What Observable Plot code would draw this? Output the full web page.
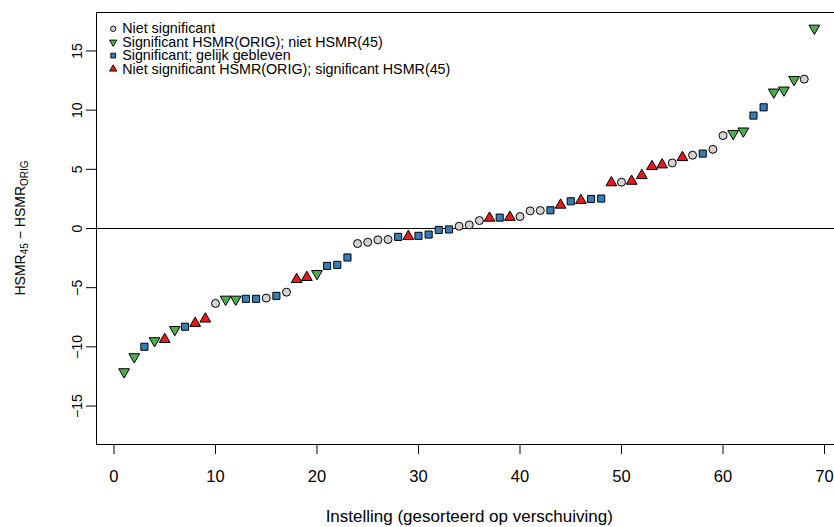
<!DOCTYPE html>
<html>
<head>
<meta charset="utf-8">
<script src="https://cdn.jsdelivr.net/npm/d3@7"></script>
<script src="https://cdn.jsdelivr.net/npm/@observablehq/plot@0.6"></script>
<style>
  html, body { margin: 0; padding: 0; background: #fff; overflow: hidden; }
  #chart { width: 834px; height: 527px; overflow: hidden; }
  #chart svg { max-width: none !important; }
</style>
</head>
<body>
<div id="chart"></div>
<script>
// Verschuiving HSMR(45) - HSMR(ORIG) per instelling, oplopend gesorteerd
const shift = [
  -12.11, -10.84, -9.99, -9.49, -9.37, -8.54, -8.30, -8.01, -7.64, -6.33,
  -5.98, -5.98, -5.94, -5.94, -5.88, -5.69, -5.38, -4.30, -4.13, -3.81,
  -3.16, -3.07, -2.45, -1.27, -1.16, -0.96, -0.93, -0.71, -0.67, -0.62,
  -0.51, -0.12, -0.08, 0.19, 0.30, 0.67, 0.88, 0.92, 0.95, 1.01,
  1.49, 1.52, 1.54, 1.98, 2.30, 2.37, 2.50, 2.53, 3.87, 3.91,
  4.00, 4.48, 5.24, 5.38, 5.54, 6.00, 6.19, 6.33, 6.69, 7.85,
  8.02, 8.23, 9.54, 10.24, 11.52, 11.69, 12.58, 12.62, 16.92
];

// Groep per instelling (index in groupLabels)
const group = [
  1, 1, 2, 1, 3, 1, 2, 3, 3, 0,
  1, 1, 2, 2, 0, 2, 0, 3, 3, 1,
  2, 2, 2, 0, 0, 0, 0, 2, 3, 2,
  2, 2, 2, 0, 0, 0, 3, 2, 3, 0,
  0, 0, 2, 3, 2, 3, 2, 2, 3, 0,
  3, 3, 3, 3, 0, 3, 0, 2, 0, 0,
  1, 1, 2, 2, 1, 1, 1, 0, 1
];

const groupLabels = [
  "Niet significant",
  "Significant HSMR(ORIG); niet HSMR(45)",
  "Significant; gelijk gebleven",
  "Niet significant HSMR(ORIG); significant HSMR(45)"
];

const xTicks = [0, 10, 20, 30, 40, 50, 60, 70];
const yTicks = [-15, -10, -5, 0, 5, 10, 15];

const xTitle = "Instelling (gesorteerd op verschuiving)";

// Weergave per groep
const groupFill = ["#d3d3d3", "#4daf4a", "#377eb8", "#e41a1c"];
const groupSymbol = ["circle", "triangle", "square", "triangle"];
const groupRotate = [0, 180, 0, 0];

const rows = shift.map((v, i) => ({
  pos: i + 1,
  shift: v,
  label: groupLabels[group[i]],
  rotate: groupRotate[group[i]]
}));

const font = "'Liberation Sans', Arial, Helvetica, sans-serif";

const legendMarks = groupLabels.flatMap((lab, i) => [
  Plot.dot([lab], {
    frameAnchor: "top-left", dx: 16.7, dy: 16.3 + i * 13.4,
    symbol: groupSymbol[i], fill: groupFill[i], rotate: groupRotate[i],
    stroke: "#000", strokeWidth: 0.9, r: 2.7
  }),
  Plot.text([lab], {
    frameAnchor: "top-left", dx: 25.7, dy: 16.3 + i * 13.4,
    text: d => d, textAnchor: "start", lineAnchor: "middle",
    fontSize: 14.3, fill: "#000"
  })
]);

const chart = Plot.plot({
  width: 842,
  height: 527,
  marginLeft: 96,
  marginRight: 0.5,
  marginTop: 12,
  marginBottom: 83,
  style: { fontFamily: font, fontSize: "14px", background: "#fff", color: "#000" },
  x: { domain: [-1.72, 71.72] },
  y: { domain: [-18.25, 18.25] },
  symbol: { domain: groupLabels, range: groupSymbol },
  color: { domain: groupLabels, range: groupFill },
  marks: [
    Plot.frame({ stroke: "#000", strokeWidth: 1 }),
    Plot.ruleY([0], { stroke: "#000", strokeWidth: 1.2 }),
    Plot.axisX({ ticks: xTicks, tickSize: 10, tickPadding: 16, label: null, fontSize: 16.5 }),
    Plot.axisY({ ticks: yTicks, tickSize: 10, tickRotate: -90, tickPadding: 5, label: null, fontSize: 14 }),
    Plot.text([xTitle], {
      frameAnchor: "bottom", dy: 72.5, text: d => d, lineAnchor: "middle",
      fontSize: 17, fill: "#000"
    }),
    Plot.dot(rows, {
      x: "pos", y: "shift", symbol: "label", fill: "label", rotate: "rotate",
      r: 4, stroke: "#000", strokeWidth: 1
    }),
    ...legendMarks
  ]
});
chart.style.maxWidth = "none";

// As-titel met subscripts: HSMR45 − HSMRORIG
const svg = d3.select(chart);
const yScale = chart.scale("y");
const yMid = (yScale.range[0] + yScale.range[1]) / 2;
const title = svg.append("text")
  .attr("transform", `translate(25,${yMid}) rotate(-90)`)
  .attr("text-anchor", "middle")
  .attr("font-family", font)
  .attr("font-size", 14)
  .attr("fill", "#000");
title.append("tspan").text("HSMR");
title.append("tspan").attr("font-size", 10).attr("dy", 3).text("45");
title.append("tspan").attr("dy", -3).text(" \u2212 HSMR");
title.append("tspan").attr("font-size", 10).attr("dy", 3).text("ORIG");

document.getElementById("chart").appendChild(chart);
</script>
</body>
</html>
